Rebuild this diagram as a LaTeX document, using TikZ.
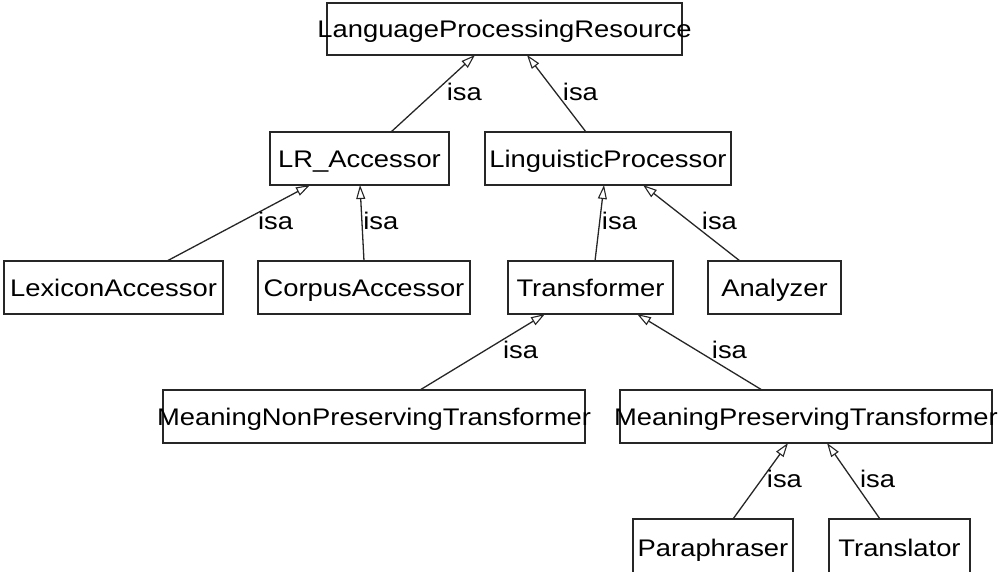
\documentclass[tikz,border=0pt]{standalone}
\usepackage{fontspec}
\setmainfont[FakeStretch=1.14]{Liberation Sans}
\usetikzlibrary{arrows.meta}
\begin{document}
\begin{tikzpicture}[x=1pt,y=-1pt,
  box/.style={draw=black!85, line width=1.4pt, rectangle, inner sep=0pt, outer sep=0pt,
    minimum height=53pt, font=\fontsize{24pt}{28pt}\selectfont,
    text height=17.2pt, text depth=0pt},
  isa/.style={draw=black!85, line width=1.3pt,
    -{Triangle[open, length=14pt, width=9pt, line width=1.1pt, fill=white]}},
  lbl/.style={inner sep=0pt, outer sep=0pt, font=\fontsize{24pt}{28pt}\selectfont,
    anchor=base west}]
\useasboundingbox (0,0) rectangle (1000,571);
% row 1
\node[box, minimum width=355pt, minimum height=52pt] (lpr) at (504.5,29) {\makebox[0pt]{LanguageProcessingResource}};
% row 2
\node[box, minimum width=179pt] (lra) at (359.5,158.5) {\makebox[0pt]{LR\_Accessor}};
\node[box, minimum width=246pt] (lp) at (608,158.5) {\makebox[0pt]{LinguisticProcessor}};
% row 3
\node[box, minimum width=219pt] (lex) at (113.5,287.5) {\makebox[0pt]{LexiconAccessor}};
\node[box, minimum width=212pt] (cor) at (364,287.5) {\makebox[0pt]{CorpusAccessor}};
\node[box, minimum width=165pt] (tra) at (590.5,287.5) {\makebox[0pt]{Transformer}};
\node[box, minimum width=133pt] (ana) at (774.5,287.5) {\makebox[0pt]{Analyzer}};
% row 4
\node[box, minimum width=422pt] (mnpt) at (374,416.5) {\makebox[0pt]{MeaningNonPreservingTransformer}};
\node[box, minimum width=372pt] (mpt) at (806,416.5) {\makebox[0pt]{MeaningPreservingTransformer}};
% row 5 (bottom edge runs past the picture)
\node[box, minimum width=160pt, minimum height=58pt] (par) at (713,548) {\makebox[0pt]{Paraphraser}};
\node[box, minimum width=141pt, minimum height=58pt] (trl) at (899.5,548) {\makebox[0pt]{Translator}};
% connectors
\draw[isa] ([xshift=31.5pt]lra.north) -- node[lbl, pos=0.4156, xshift=21pt] (l1) {isa} ([xshift=-29.5pt]lpr.south);
\draw[isa] ([xshift=-22pt]lp.north) -- node[lbl, pos=0.4156, xshift=1.5pt] (l2) {isa} ([xshift=22.5pt]lpr.south);
\draw[isa] ([xshift=53.5pt]lex.north) -- node[lbl, pos=0.421, xshift=30.8pt] (l3) {isa} ([xshift=-49.5pt]lra.south);
\draw[isa] (cor.north) -- node[lbl, pos=0.421, xshift=1pt] (l4) {isa} ([xshift=0.5pt]lra.south);
\draw[isa] ([xshift=4.5pt]tra.north) -- node[lbl, pos=0.421, xshift=3.2pt] (l5) {isa} ([xshift=-4pt]lp.south);
\draw[isa] ([xshift=-34.5pt]ana.north) -- node[lbl, pos=0.421, xshift=2.8pt] (l6) {isa} ([xshift=35pt]lp.south);
\draw[isa] ([xshift=46pt]mnpt.north) -- node[lbl, pos=0.421, xshift=30.4pt] (l7) {isa} ([xshift=-45.5pt]tra.south);
\draw[isa] ([xshift=-44pt]mpt.north) -- node[lbl, pos=0.421, xshift=2.6pt] (l8) {isa} ([xshift=46.5pt]tra.south);
\draw[isa] ([xshift=20pt]par.north) -- node[lbl, pos=0.421, xshift=10.8pt] (l9) {isa} ([xshift=-18pt]mpt.south);
\draw[isa] ([xshift=-19.5pt]trl.north) -- node[lbl, pos=0.421, xshift=2.3pt] (l10) {isa} ([xshift=21pt]mpt.south);
\end{tikzpicture}
\end{document}
